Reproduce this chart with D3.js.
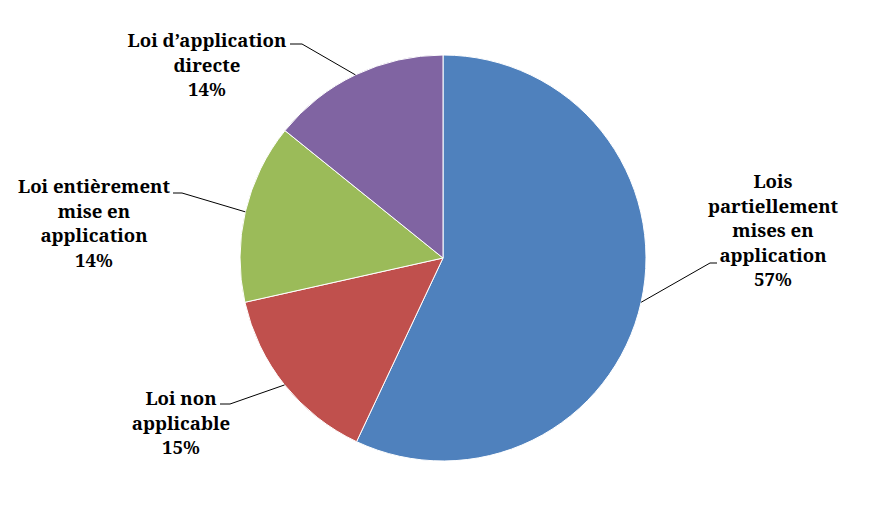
<!DOCTYPE html>
<html>
<head>
<meta charset="utf-8">
<script src="https://cdn.jsdelivr.net/npm/d3@7"></script>
<style>
  html, body { margin: 0; padding: 0; background: #fff; }
  svg { display: block; }
</style>
</head>
<body>
<svg id="chart" width="886" height="517"></svg>
<script>
const categories = ["Lois partiellement mises en application", "Loi non applicable", "Loi entièrement mise en application", "Loi d\u2019application directe"];
const values = [57, 14.5, 14.3, 14.2];
const percentLabels = ["57%", "15%", "14%", "14%"];
const labelLines = [
  ["Lois", "partiellement", "mises en", "application", "57%"],
  ["Loi non", "applicable", "15%"],
  ["Loi enti\u00e8rement", "mise en", "application", "14%"],
  ["Loi d\u2019application", "directe", "14%"]
];
const colors = ["#4F81BD", "#C0504D", "#9BBB59", "#8064A2"];

const W = 886, H = 517;
const cx = 443, cy = 258, R = 203;
const svg = d3.select("#chart");
const g = svg.append("g").attr("transform", `translate(${cx},${cy})`);

const pie = d3.pie().sort(null).value(d => d);
const arcs = pie(values);
const arc = d3.arc().innerRadius(0).outerRadius(R);

g.selectAll("path.slice").data(arcs).enter().append("path")
  .attr("class", "slice")
  .attr("d", arc)
  .attr("fill", (d, i) => colors[i])
  .attr("stroke", "#fff")
  .attr("stroke-width", 1);

const layout = [
  { x: 773, y: 188, elbow: [710, 263], end: [717, 263] },
  { x: 181, y: 405, elbow: [230, 404], end: [220, 404] },
  { x: 94,  y: 193, elbow: [182, 193], end: [173, 193] },
  { x: 207, y: 47,  elbow: [302, 44],  end: [290, 44] }
];
const lineH = 24.5;

const edge = d3.arc().innerRadius(R).outerRadius(R);
arcs.forEach((a, i) => {
  const [px, py] = edge.centroid(a);
  const L = layout[i];
  svg.append("polyline")
    .attr("points", [[cx + px, cy + py], L.elbow, L.end].map(p => p.join(",")).join(" "))
    .attr("fill", "none")
    .attr("stroke", "#000")
    .attr("stroke-width", 1);
  const t = svg.append("text")
    .attr("text-anchor", "middle")
    .attr("font-family", "\"Noto Serif\"")
    .attr("font-weight", "bold")
    .attr("font-size", 18.6)
    .attr("fill", "#000");
  labelLines[i].forEach((ln, j) => {
    t.append("tspan").attr("x", L.x).attr("y", L.y + j * lineH).text(ln);
  });
});
</script>
</body>
</html>
